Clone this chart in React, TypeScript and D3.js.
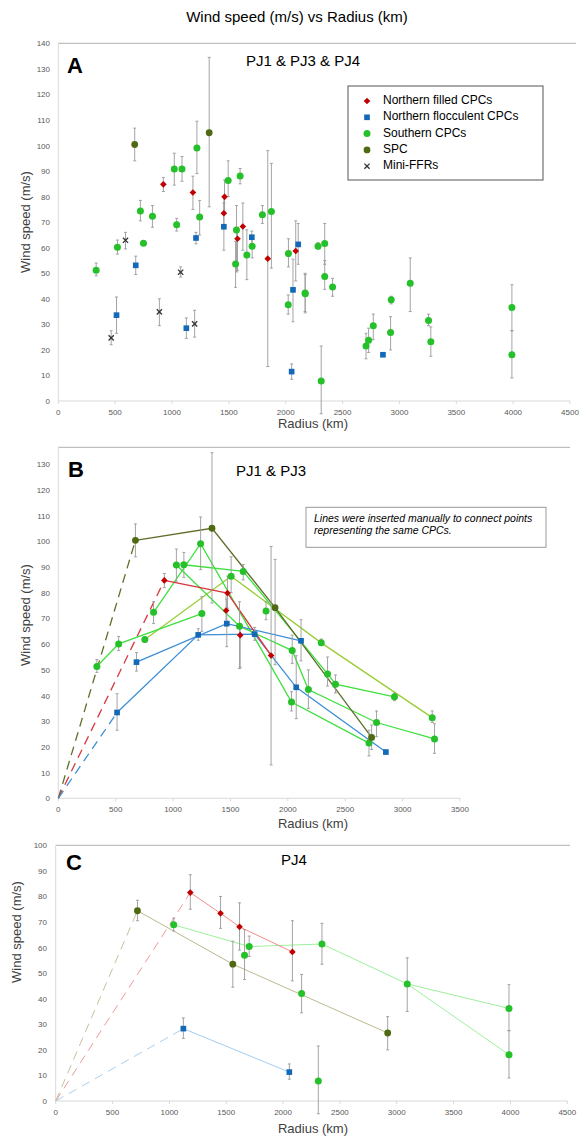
import React from "react";
import * as d3 from "d3";

// [radius km, wind speed m/s, error low, error high]
type Pt = [number, number, number, number];
type XY = [number, number];

const legendNames = ["Northern filled CPCs", "Northern flocculent CPCs", "Southern CPCs", "SPC", "Mini-FFRs"];

// ---------- panel A : PJ1 & PJ3 & PJ4 ----------
const aFilled: Pt[] = [
  [924, 84.8, 82, 87.5], [1184, 81.6, 75, 88], [1462, 79.9, 74, 86.5], [1456, 73.5, 67.5, 80],
  [1576, 63.5, 51, 68], [1623, 68.3, 59, 77.5], [1842, 55.7, 13.5, 98], [2088, 58.7, 47, 70.5],
];
const aFloc: Pt[] = [
  [512, 33.6, 26.5, 40.7], [681, 53.1, 49.5, 56.7], [1126, 28.5, 24.5, 32.5], [1211, 63.8, 61.5, 66],
  [1456, 68.2, 59, 77.5], [1702, 64.1, 61.5, 66.5], [2052, 11.5, 8.5, 14.5], [2064, 43.5, 31, 55.5],
  [2110, 61.3, 53.5, 69.5], [2855, 18.1, 18.1, 18.1],
];
const aSouth: Pt[] = [
  [333, 51.2, 49, 54], [520, 60.2, 57.5, 63], [722, 74.4, 70.5, 78.5], [749, 61.7, 61.7, 61.7],
  [828, 72.3, 68, 76.5], [1020, 90.8, 84.5, 97], [1041, 69, 66.5, 71.5], [1088, 90.8, 86, 95.7],
  [1219, 99, 89, 109.5], [1243, 72, 65, 78.5], [1494, 86.3, 80, 94], [1559, 53.6, 44.5, 62.5],
  [1567, 66.9, 50.5, 76.5], [1599, 88.1, 85, 91], [1658, 57.1, 47.5, 67], [1705, 60.6, 56, 64],
  [1795, 72.9, 69.5, 76.5], [1874, 74.2, 52, 93], [2024, 57.7, 52.5, 63.5], [2022, 37.7, 34, 41.5],
  [2170, 42.3, 35, 50], [2172, 42, 34.5, 49.5], [2284, 60.6, 59.5, 62], [2343, 61.6, 53.5, 69.5],
  [2343, 48.7, 43.7, 55], [2412, 44.6, 41, 48], [2312, 7.8, -5, 21.5], [2706, 21.5, 16.5, 26.5],
  [2729, 23.8, 19, 28.5], [2770, 29.5, 24, 34], [2922, 26.8, 20, 33], [2928, 39.6, 38, 41],
  [3095, 46.1, 35, 56], [3256, 31.5, 29.5, 34], [3276, 23.2, 17.5, 29], [3989, 36.6, 27.5, 45.5],
  [3989, 18.1, 9, 27.5],
];
const aSpc: Pt[] = [[672, 100.4, 94, 106.8], [1327, 105, 76, 134.5]];
const aFfr: Pt[] = [
  [465, 24.7, 22, 27.5], [591, 62.9, 59.5, 66], [889, 34.9, 29.5, 40], [1076, 50.4, 48.5, 52.5], [1199, 30.2, 25, 35.5],
];

// ---------- panel B : PJ1 & PJ3 ----------
const bFilled: Pt[] = [
  [924, 84.8, 82, 87.5], [1474, 79.9, 74, 86.5], [1462, 73.1, 67, 80], [1585, 63.5, 51, 68], [1854, 55.6, 13, 98],
];
const bFloc: Pt[] = [
  [512, 33.4, 26.5, 40.7], [681, 53, 49.5, 56.7], [1219, 63.6, 61.5, 66], [1468, 68, 59, 77.5],
  [1711, 63.9, 61.5, 66.5], [2073, 43.2, 31, 55.5], [2115, 61.3, 53.5, 69.5], [2854, 18, 18, 18],
];
const bSouth: Pt[] = [
  [336, 51.3, 49, 54], [526, 60.1, 57.5, 63], [754, 61.8, 61.8, 61.8], [830, 72.4, 68, 76.5],
  [1029, 90.8, 84.5, 97], [1094, 90.9, 86, 95.7], [1240, 99.1, 89, 109.5], [1251, 71.9, 65, 78.5],
  [1506, 86.4, 80, 94], [1579, 67, 50.5, 76.5], [1611, 88.3, 85, 91], [1810, 72.9, 69.5, 76.5],
  [2032, 37.5, 34, 41.5], [2038, 57.5, 52.5, 63.5], [2179, 42.3, 35, 50], [2291, 60.5, 59.5, 62],
  [2346, 48.4, 43.7, 55], [2415, 44.4, 41, 48], [2707, 21.5, 16.5, 26.5], [2773, 29.5, 24, 34],
  [2929, 39.5, 38, 41], [3258, 31.4, 29.5, 34], [3278, 23.1, 17.5, 29],
];
const bSpc: Pt[] = [[672, 100.4, 94, 106.8], [1339, 105.1, 76, 134.5], [1889, 74.2, 52, 93], [2730, 23.7, 19, 28.5]];

const bSpcDash: XY[] = [[0, 0], [672, 100.4]];
const bSpcLine: XY[] = [[672, 100.4], [1339, 105.1], [1889, 74.2], [2730, 23.7]];
const bFilledDash: XY[] = [[0, 0], [924, 84.8]];
const bFilledLine: XY[] = [[924, 84.8], [1474, 79.9], [1854, 55.6]];
const bFlocDash: XY[] = [[0, 0], [512, 33.4]];
const bFlocLines: XY[][] = [
  [[512, 33.4], [1219, 63.6], [1711, 63.9], [2073, 43.2], [2854, 18]],
  [[681, 53], [1468, 68], [2115, 61.3]],
];
const bSouthLines: XY[][] = [
  [[336, 51.3], [526, 60.1], [1251, 71.9]],
  [[830, 72.4], [1240, 99.1], [2032, 37.5], [2707, 21.5]],
  [[1029, 90.8], [1579, 67], [2038, 57.5], [2179, 42.3], [2773, 29.5], [3278, 23.1]],
  [[1094, 90.9], [1611, 88.3], [2346, 48.4], [2415, 44.4], [2929, 39.5]],
];
const bSouthAltLines: XY[][] = [[[754, 61.8], [1506, 86.4], [2291, 60.5], [3258, 31.4]]];

// ---------- panel C : PJ4 ----------
const cFilled: Pt[] = [[1184, 81.5, 75, 88.5], [1450, 73.4, 67.5, 80], [1617, 68.1, 59, 77.5], [2082, 58.3, 47, 70.5]];
const cFloc: Pt[] = [[1123, 28.3, 24.5, 32.5], [2055, 11.3, 8.5, 14.5]];
const cSouth: Pt[] = [
  [1038, 68.9, 66.5, 71.5], [1661, 57, 47.5, 67], [1702, 60.4, 56.5, 64.5], [2163, 42, 34.5, 49.5],
  [2310, 7.8, -5, 21.5], [2342, 61.4, 53.5, 69.5], [3092, 45.8, 35, 56], [3987, 36.2, 27.5, 45.5],
  [3987, 18.1, 9, 27.5],
];
const cSpc: Pt[] = [[719, 74.4, 70.5, 78.5], [1558, 53.5, 44.5, 62.5], [2920, 26.6, 20, 33]];

const cSpcDash: XY[] = [[0, 0], [719, 74.4]];
const cSpcLine: XY[] = [[719, 74.4], [1558, 53.5], [2920, 26.6]];
const cFilledDash: XY[] = [[0, 0], [1184, 81.5]];
const cFilledLine: XY[] = [[1184, 81.5], [1450, 73.4], [1617, 68.1], [2082, 58.3]];
const cFlocDash: XY[] = [[0, 0], [1123, 28.3]];
const cFlocLine: XY[] = [[1123, 28.3], [2055, 11.3]];
const cSouthLines: XY[][] = [
  [[1038, 68.9], [1702, 60.4], [2342, 61.4], [3092, 45.8], [3987, 36.2]],
  [[3092, 45.8], [3987, 18.1]],
];

const FONT = "Arial, 'Liberation Sans', sans-serif";
const COL = { filled: "#c00000", floc: "#1368b8", south: "#25c02a", spc: "#4f6a12", ffr: "#333" };

type Kind = "filled" | "floc" | "south" | "spc" | "ffr";

const Marker = ({ kind, cx, cy }: { kind: Kind; cx: number; cy: number }) => {
  const t = `translate(${cx},${cy})`;
  if (kind === "filled")
    return <path d={d3.symbol(d3.symbolSquare, 22)()!} transform={t + " rotate(45)"} fill={COL.filled} />;
  if (kind === "floc") return <path d={d3.symbol(d3.symbolSquare, 32)()!} transform={t} fill={COL.floc} />;
  if (kind === "south") return <circle cx={cx} cy={cy} r={3.5} fill={COL.south} />;
  if (kind === "spc") return <circle cx={cx} cy={cy} r={3.4} fill={COL.spc} />;
  return (
    <g transform={t} stroke={COL.ffr} strokeWidth={1.3}>
      <line x1={-2.6} y1={-2.6} x2={2.6} y2={2.6} />
      <line x1={-2.6} y1={2.6} x2={2.6} y2={-2.6} />
    </g>
  );
};

type Series = { kind: Kind; data: Pt[] };
type Line = { pts: XY[]; color: string; dash?: boolean; width?: number };

type PanelProps = {
  x: d3.ScaleLinear<number, number>;
  y: d3.ScaleLinear<number, number>;
  top: number;
  right: number;
  xTicks: number[];
  yTicks: number[];
  series: Series[];
  lines: Line[];
  letter: string;
  letterX: number;
  letterY: number;
  title: string;
  titleX: number;
  titleY: number;
  yTitleX: number;
  yTitleY: number;
  xTitleY: number;
  yLabelX: number;
};

const Panel = (p: PanelProps) => {
  const { x, y } = p;
  const y0 = y(0);
  const line = d3.line<XY>().x(d => x(d[0])).y(d => y(d[1]));
  return (
    <g fontFamily={FONT}>
      <line x1={x(0)} x2={p.right} y1={p.top} y2={p.top} stroke="#b0b0b0" strokeWidth={1} />
      <line x1={x(0)} x2={x(0)} y1={p.top} y2={y0} stroke="#d9d9d9" strokeWidth={1} />
      <line x1={x(0)} x2={x(p.xTicks[p.xTicks.length - 1])} y1={y0} y2={y0} stroke="#d9d9d9" strokeWidth={1} />
      {p.xTicks.map(t => (
        <g key={"xt" + t}>
          <line x1={x(t)} x2={x(t)} y1={y0} y2={y0 + 3} stroke="#d9d9d9" />
          <text x={x(t)} y={y0 + 14} fontSize={8} fill="#595959" textAnchor="middle">{t}</text>
        </g>
      ))}
      {p.yTicks.map(t => (
        <text key={"yt" + t} x={p.yLabelX} y={y(t) + 3} fontSize={8} fill="#595959" textAnchor="end">{t}</text>
      ))}
      <text x={p.yTitleX} y={p.yTitleY} fontSize={13} fill="#404040" textAnchor="middle"
        transform={`rotate(-90 ${p.yTitleX} ${p.yTitleY})`} dominantBaseline="middle">Wind speed (m/s)</text>
      <text x={313} y={p.xTitleY} fontSize={13} fill="#404040" textAnchor="middle" dominantBaseline="middle">Radius (km)</text>
      <text x={p.letterX} y={p.letterY} fontSize={22} fontWeight="bold" fill="#000">{p.letter}</text>
      <text x={p.titleX} y={p.titleY} fontSize={15} fill="#000" textAnchor="middle" dominantBaseline="middle">{p.title}</text>
      {p.lines.map((l, i) => (
        <path key={"l" + i} d={line(l.pts)!} fill="none" stroke={l.color} strokeWidth={l.width ?? 1.3}
          strokeDasharray={l.dash ? "9,6" : undefined} />
      ))}
      {p.series.map((s, si) => (
        <g key={"s" + si}>
          {s.data.filter(d => d[3] > d[2]).map((d, i) => (
            <g key={i} stroke="#9a9a9a" strokeWidth={0.9}>
              <line x1={x(d[0])} x2={x(d[0])} y1={y(d[2])} y2={y(d[3])} />
              <line x1={x(d[0]) - 1.5} x2={x(d[0]) + 1.5} y1={y(d[2])} y2={y(d[2])} />
              <line x1={x(d[0]) - 1.5} x2={x(d[0]) + 1.5} y1={y(d[3])} y2={y(d[3])} />
            </g>
          ))}
        </g>
      ))}
      {p.series.map((s, si) => (
        <g key={"m" + si}>
          {s.data.map((d, i) => <Marker key={i} kind={s.kind} cx={x(d[0])} cy={y(d[1])} />)}
        </g>
      ))}
    </g>
  );
};

export default function App() {
  const xA = d3.scaleLinear().domain([0, 4500]).range([58.3, 570]);
  const yA = d3.scaleLinear().domain([0, 140]).range([401, 43.3]);
  const xB = d3.scaleLinear().domain([0, 3500]).range([58.3, 460]);
  const yB = d3.scaleLinear().domain([0, 130]).range([798.3, 464.3]);
  const xC = d3.scaleLinear().domain([0, 4500]).range([55.7, 567.3]);
  const yC = d3.scaleLinear().domain([0, 100]).range([1101, 845.3]);

  const kinds: Kind[] = ["filled", "floc", "south", "spc", "ffr"];

  return (
    <svg width={588} height={1138} style={{ display: "block", position: "absolute", left: 0, top: 0 }}>
      <rect width={588} height={1138} fill="#fff" />
      <text x={297} y={18} fontFamily={FONT} fontSize={15} textAnchor="middle" dominantBaseline="middle" fill="#000">
        Wind speed (m/s) vs Radius (km)
      </text>

      <Panel x={xA} y={yA} top={43.3} right={576}
        xTicks={d3.range(0, 4501, 500)} yTicks={d3.range(0, 141, 10)}
        series={[
          { kind: "south", data: aSouth }, { kind: "floc", data: aFloc }, { kind: "filled", data: aFilled },
          { kind: "spc", data: aSpc }, { kind: "ffr", data: aFfr },
        ]}
        lines={[]}
        letter="A" letterX={67} letterY={73} title="PJ1 & PJ3 & PJ4" titleX={303} titleY={62}
        yTitleX={27} yTitleY={222} xTitleY={425} yLabelX={50} />

      <g fontFamily={FONT}>
        <rect x={348} y={86} width={195} height={94} fill="#fff" stroke="#555" strokeWidth={1} />
        {legendNames.map((n, i) => {
          const cy = 101 + i * 16.3;
          return (
            <g key={n}>
              <Marker kind={kinds[i]} cx={367} cy={cy} />
              <text x={383} y={cy} fontSize={12} dominantBaseline="middle" fill="#000">{n}</text>
            </g>
          );
        })}
      </g>

      <Panel x={xB} y={yB} top={447.3} right={570}
        xTicks={d3.range(0, 3501, 500)} yTicks={d3.range(0, 131, 10)}
        series={[
          { kind: "south", data: bSouth }, { kind: "floc", data: bFloc }, { kind: "filled", data: bFilled },
          { kind: "spc", data: bSpc },
        ]}
        lines={[
          { pts: bSpcDash, color: "#5f6e2a", dash: true },
          { pts: bFilledDash, color: "#d9363e", dash: true },
          { pts: bFlocDash, color: "#3d8fd6", dash: true },
          ...bSouthAltLines.map(pts => ({ pts, color: "#9acd32" })),
          ...bSouthLines.map(pts => ({ pts, color: "#3ee03e" })),
          ...bFlocLines.map(pts => ({ pts, color: "#3d8fd6" })),
          { pts: bFilledLine, color: "#d9363e" },
          { pts: bSpcLine, color: "#5f6e2a" },
        ]}
        letter="B" letterX={68} letterY={477} title="PJ1 & PJ3" titleX={271} titleY={472}
        yTitleX={27} yTitleY={615} xTitleY={825} yLabelX={50} />

      <g fontFamily={FONT}>
        <rect x={306} y={507.3} width={240} height={40} fill="#fff" stroke="#999" strokeWidth={1} />
        <text x={314} y={519} fontSize={10.5} fontStyle="italic" fill="#000" dominantBaseline="middle">
          Lines were inserted manually to connect points
        </text>
        <text x={314} y={531.7} fontSize={10.5} fontStyle="italic" fill="#000" dominantBaseline="middle">
          representing the same CPCs.
        </text>
      </g>

      <Panel x={xC} y={yC} top={845.3} right={570}
        xTicks={d3.range(0, 4501, 500)} yTicks={d3.range(0, 101, 10)}
        series={[
          { kind: "south", data: cSouth }, { kind: "floc", data: cFloc }, { kind: "filled", data: cFilled },
          { kind: "spc", data: cSpc },
        ]}
        lines={[
          { pts: cSpcDash, color: "#c4c39c", dash: true, width: 1 },
          { pts: cFilledDash, color: "#f29a9a", dash: true, width: 1 },
          { pts: cFlocDash, color: "#a9d0f0", dash: true, width: 1 },
          ...cSouthLines.map(pts => ({ pts, color: "#9cf09c", width: 1 })),
          { pts: cSpcLine, color: "#bdb98f", width: 1 },
          { pts: cFilledLine, color: "#f08c8c", width: 1 },
          { pts: cFlocLine, color: "#a2cdf0", width: 1 },
        ]}
        letter="C" letterX={66} letterY={870} title="PJ4" titleX={294} titleY={861}
        yTitleX={18} yTitleY={932} xTitleY={1130} yLabelX={47} />
    </svg>
  );
}
